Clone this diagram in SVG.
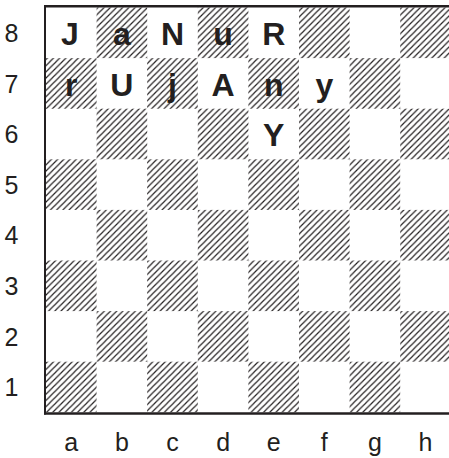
<svg xmlns="http://www.w3.org/2000/svg" width="449" height="458" viewBox="0 0 449 458">
<defs>
<pattern id="hatch" patternUnits="userSpaceOnUse" width="6.2" height="6.2">
<path d="M0,6.2 L6.2,0 M-1.5,1.5 L1.5,-1.5 M4.7,7.7 L7.7,4.7" stroke="#231f20" stroke-width="1.2" fill="none"/>
</pattern>
</defs>
<style>
.dark{fill:url(#hatch)}
.piece{font-family:"Liberation Sans",Arial,sans-serif;font-weight:bold;font-size:32px;fill:#231f20;text-anchor:middle}
.lbl{font-family:"Liberation Sans",Arial,sans-serif;font-size:25px;fill:#231f20;text-anchor:middle}
.frame{stroke:#231f20;fill:none}
</style>
<rect width="449" height="458" fill="#fff"/>
<g id="squares">
<rect class="dark" x="96.6" y="7.5" width="50.6" height="50.6"/>
<rect class="dark" x="197.8" y="7.5" width="50.6" height="50.6"/>
<rect class="dark" x="299" y="7.5" width="50.6" height="50.6"/>
<rect class="dark" x="400.2" y="7.5" width="50.6" height="50.6"/>
<rect class="dark" x="46" y="58.1" width="50.6" height="50.6"/>
<rect class="dark" x="147.2" y="58.1" width="50.6" height="50.6"/>
<rect class="dark" x="248.4" y="58.1" width="50.6" height="50.6"/>
<rect class="dark" x="349.6" y="58.1" width="50.6" height="50.6"/>
<rect class="dark" x="96.6" y="108.7" width="50.6" height="50.6"/>
<rect class="dark" x="197.8" y="108.7" width="50.6" height="50.6"/>
<rect class="dark" x="299" y="108.7" width="50.6" height="50.6"/>
<rect class="dark" x="400.2" y="108.7" width="50.6" height="50.6"/>
<rect class="dark" x="46" y="159.3" width="50.6" height="50.6"/>
<rect class="dark" x="147.2" y="159.3" width="50.6" height="50.6"/>
<rect class="dark" x="248.4" y="159.3" width="50.6" height="50.6"/>
<rect class="dark" x="349.6" y="159.3" width="50.6" height="50.6"/>
<rect class="dark" x="96.6" y="209.9" width="50.6" height="50.6"/>
<rect class="dark" x="197.8" y="209.9" width="50.6" height="50.6"/>
<rect class="dark" x="299" y="209.9" width="50.6" height="50.6"/>
<rect class="dark" x="400.2" y="209.9" width="50.6" height="50.6"/>
<rect class="dark" x="46" y="260.5" width="50.6" height="50.6"/>
<rect class="dark" x="147.2" y="260.5" width="50.6" height="50.6"/>
<rect class="dark" x="248.4" y="260.5" width="50.6" height="50.6"/>
<rect class="dark" x="349.6" y="260.5" width="50.6" height="50.6"/>
<rect class="dark" x="96.6" y="311.1" width="50.6" height="50.6"/>
<rect class="dark" x="197.8" y="311.1" width="50.6" height="50.6"/>
<rect class="dark" x="299" y="311.1" width="50.6" height="50.6"/>
<rect class="dark" x="400.2" y="311.1" width="50.6" height="50.6"/>
<rect class="dark" x="46" y="361.7" width="50.6" height="50.6"/>
<rect class="dark" x="147.2" y="361.7" width="50.6" height="50.6"/>
<rect class="dark" x="248.4" y="361.7" width="50.6" height="50.6"/>
<rect class="dark" x="349.6" y="361.7" width="50.6" height="50.6"/>
</g>
<g id="frame">
<line class="frame" x1="44" y1="6.2" x2="449" y2="6.2" stroke-width="2.6"/>
<line class="frame" x1="45" y1="5" x2="45" y2="414.5" stroke-width="2"/>
<line class="frame" x1="44" y1="413.5" x2="449" y2="413.5" stroke-width="2.4"/>
</g>
<g id="pieces">
<text class="piece" x="70" y="45">J</text>
<text class="piece" x="121.9" y="45">a</text>
<text class="piece" x="172.5" y="45">N</text>
<text class="piece" x="223.1" y="45">u</text>
<text class="piece" x="273.7" y="45">R</text>
<text class="piece" x="71.3" y="95.6">r</text>
<text class="piece" x="121.9" y="95.6">U</text>
<text class="piece" x="172.5" y="95.6">j</text>
<text class="piece" x="223.1" y="95.6">A</text>
<text class="piece" x="273.7" y="95.6">n</text>
<text class="piece" x="324.3" y="95.6">y</text>
<text class="piece" x="273.7" y="146.2">Y</text>
</g>
<g id="ranks">
<text class="lbl" x="11.5" y="42">8</text>
<text class="lbl" x="11.5" y="92.6">7</text>
<text class="lbl" x="11.5" y="143.2">6</text>
<text class="lbl" x="11.5" y="193.8">5</text>
<text class="lbl" x="11.5" y="244.4">4</text>
<text class="lbl" x="11.5" y="295">3</text>
<text class="lbl" x="11.5" y="345.6">2</text>
<text class="lbl" x="11.5" y="396.2">1</text>
</g>
<g id="files">
<text class="lbl" x="71.3" y="451">a</text>
<text class="lbl" x="121.9" y="451">b</text>
<text class="lbl" x="172.5" y="451">c</text>
<text class="lbl" x="223.1" y="451">d</text>
<text class="lbl" x="273.7" y="451">e</text>
<text class="lbl" x="324.3" y="451">f</text>
<text class="lbl" x="374.9" y="451">g</text>
<text class="lbl" x="425.5" y="451">h</text>
</g>
</svg>
